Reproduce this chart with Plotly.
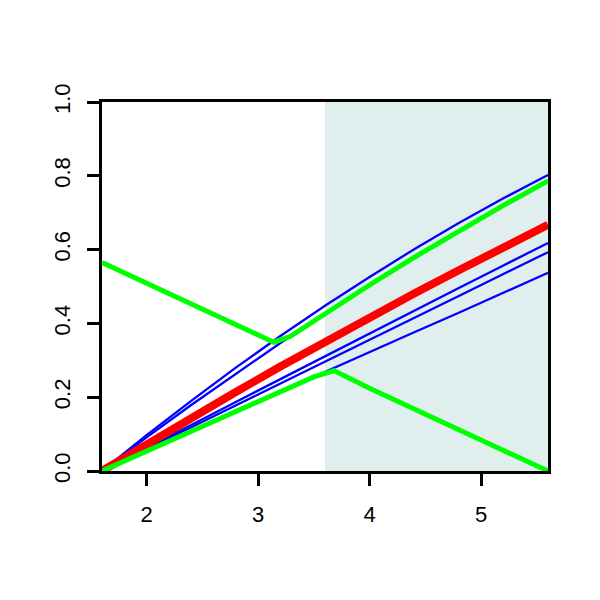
import plotly.graph_objects as go

x = [1.6, 2.0, 2.4, 2.8, 3.2, 3.6, 4.0, 4.4, 4.8, 5.2, 5.6]
blue1 = [0.0, 0.097, 0.190, 0.280, 0.366, 0.448, 0.526, 0.601, 0.672, 0.739, 0.802]
blue2 = [0.0, 0.091, 0.179, 0.264, 0.347, 0.427, 0.504, 0.579, 0.651, 0.720, 0.786]
blue3 = [0.0, 0.063, 0.125, 0.187, 0.249, 0.311, 0.374, 0.435, 0.496, 0.557, 0.618]
blue4 = [0.0, 0.059, 0.119, 0.178, 0.237, 0.296, 0.355, 0.415, 0.474, 0.534, 0.593]
blue5 = [0.0, 0.054, 0.107, 0.161, 0.215, 0.268, 0.322, 0.376, 0.429, 0.483, 0.537]
red = [0.0, 0.073, 0.144, 0.214, 0.283, 0.350, 0.416, 0.481, 0.544, 0.607, 0.667]

green_up_x = [1.6, 3.14, 3.29, 3.6, 4.0, 4.4, 4.8, 5.2, 5.6]
green_up_y = [0.565, 0.349, 0.365, 0.427, 0.504, 0.579, 0.651, 0.720, 0.786]
green_lo_x = [1.6, 2.0, 2.4, 2.8, 3.2, 3.5, 3.68, 4.0, 4.4, 4.8, 5.2, 5.6]
green_lo_y = [0.0, 0.054, 0.107, 0.161, 0.215, 0.255, 0.272, 0.224, 0.168, 0.112, 0.056, 0.0]

shade_x = [3.6, 5.6]
x_ticks = [2, 3, 4, 5]
y_ticks = [0.0, 0.2, 0.4, 0.6, 0.8, 1.0]
y_tick_labels = ["0.0", "0.2", "0.4", "0.6", "0.8", "1.0"]

fig = go.Figure()
for b in [blue1, blue2, blue3, blue4, blue5]:
    fig.add_trace(go.Scatter(x=x, y=b, mode="lines", line=dict(color="#0000FF", width=2.3)))
fig.add_trace(go.Scatter(x=x, y=red, mode="lines", line=dict(color="#FF0000", width=8)))
fig.add_trace(go.Scatter(x=green_up_x, y=green_up_y, mode="lines", line=dict(color="#00FF00", width=5)))
fig.add_trace(go.Scatter(x=green_lo_x, y=green_lo_y, mode="lines", line=dict(color="#00FF00", width=5)))

fig.add_shape(type="rect", xref="x", yref="y", x0=shade_x[0], x1=shade_x[1], y0=0, y1=1,
              fillcolor="#E0EEEE", line=dict(width=0), layer="below")

font = dict(family="Liberation Sans", size=22, color="black")
fig.update_layout(
    width=592, height=592, showlegend=False,
    margin=dict(l=94, r=52, t=94, b=129, pad=0),
    plot_bgcolor="white", paper_bgcolor="white",
    font=font,
)
fig.update_xaxes(range=[1.6, 5.6], tickvals=x_ticks, ticks="outside", ticklen=12, tickwidth=2.5,
                 tickcolor="black", showline=True, linecolor="black", linewidth=3, mirror=True,
                 showgrid=False, zeroline=False, ticklabelstandoff=10, tickfont=font)
fig.update_yaxes(range=[0, 1], tickvals=y_ticks, ticktext=y_tick_labels, ticks="outside", ticklen=12,
                 tickwidth=2.5, tickcolor="black", showline=True, linecolor="black", linewidth=3,
                 mirror=True, showgrid=False, zeroline=False, tickangle=-90, ticklabelstandoff=8,
                 tickfont=font)

fig.write_html("out.html")
